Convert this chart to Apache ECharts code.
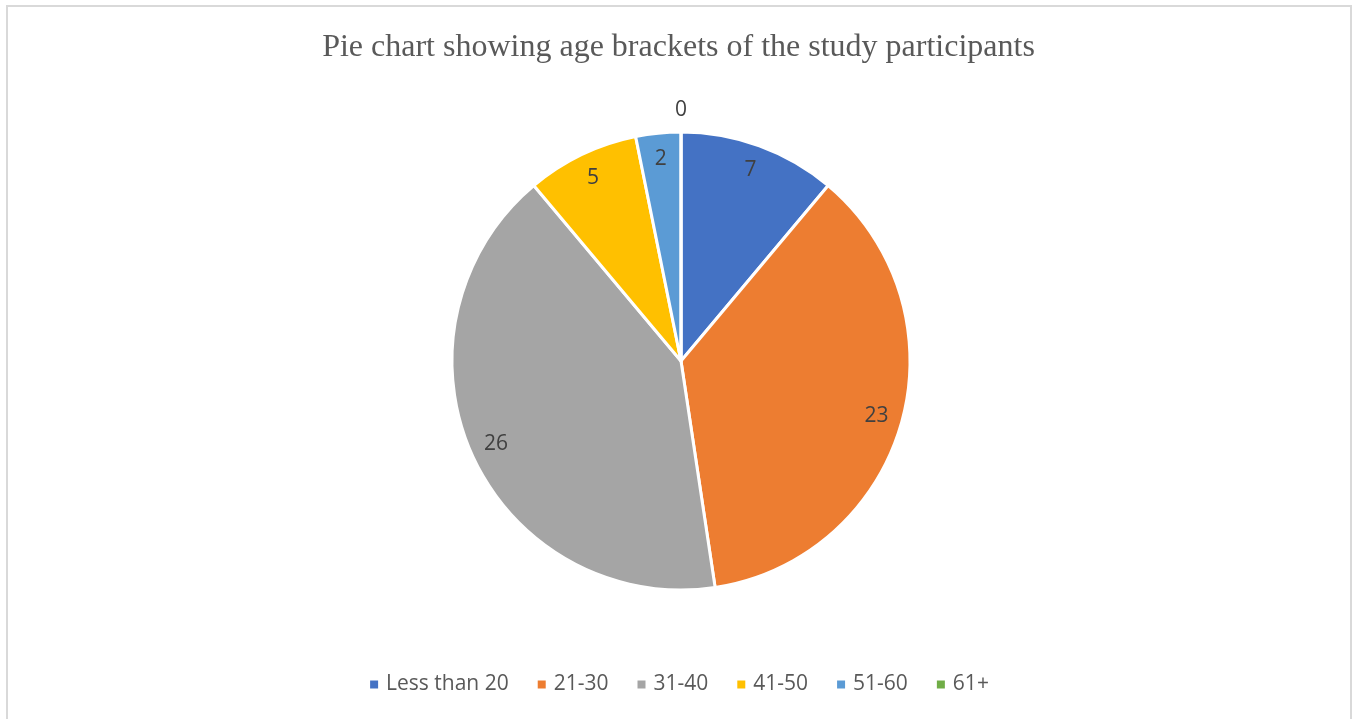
<!DOCTYPE html>
<html>
<head>
<meta charset="utf-8">
<script src="https://cdn.jsdelivr.net/npm/echarts@6/dist/echarts.min.js"></script>
<style>
  html, body { margin: 0; padding: 0; background: #fff; overflow: hidden; }
  #frame { position: absolute; left: 6px; top: 5px; width: 1346px; height: 730px; border: 2px solid #d9d9d9; box-sizing: border-box; }
  #chart { position: absolute; left: 0; top: 0; width: 1357px; height: 719px; }
</style>
</head>
<body>
<div id="frame"></div>
<div id="chart"></div>
<script>
// Age brackets
var categories = ['Less than 20', '21-30', '31-40', '41-50', '51-60', '61+'];
var participants = [7, 23, 26, 5, 2, 0];
var colors = ['#4472C4', '#ED7D31', '#A5A5A5', '#FFC000', '#5B9BD5', '#70AD47'];

var chart = echarts.init(document.getElementById('chart'));

var pieData = categories.map(function (name, i) {
    return { name: name, value: participants[i], itemStyle: { color: colors[i] } };
});
// labels sit near the rim, so a transparent ring carries them
var labelData = categories.map(function (name, i) {
    var item = { name: name, value: participants[i] };
    if (participants[i] === 0) {
        item.label = { offset: [0, -48] };
    }
    return item;
});

var option = {
    title: {
        text: 'Pie chart showing age brackets of the study participants',
        left: 'center',
        top: 27,
        textStyle: {
            fontFamily: 'Liberation Serif',
            fontWeight: 'normal',
            fontSize: 32,
            color: '#595959'
        }
    },
    legend: {
        data: categories,
        bottom: 19,
        left: 'center',
        icon: 'rect',
        itemWidth: 10,
        itemHeight: 10,
        itemGap: 27,
        textStyle: { fontFamily: 'Open Sans', fontSize: 21, color: '#595959', padding: [0, 0, 0, 2] }
    },
    series: [{
        name: 'Age',
        type: 'pie',
        center: [681, 361],
        radius: 229,
        startAngle: 90,
        clockwise: true,
        silent: true,
        itemStyle: { borderColor: '#fff', borderWidth: 3 },
        label: { show: false },
        labelLine: { show: false },
        data: pieData
    }, {
        name: 'Labels',
        type: 'pie',
        center: [681, 361],
        radius: [171, 229],
        startAngle: 90,
        clockwise: true,
        silent: true,
        itemStyle: { color: 'rgba(0,0,0,0)', borderWidth: 0 },
        label: {
            show: true,
            position: 'inside',
            formatter: '{c}',
            fontFamily: 'Open Sans',
            fontSize: 21,
            color: '#404040'
        },
        labelLine: { show: false },
        data: labelData
    }]
};
chart.setOption(option);
</script>
</body>
</html>
